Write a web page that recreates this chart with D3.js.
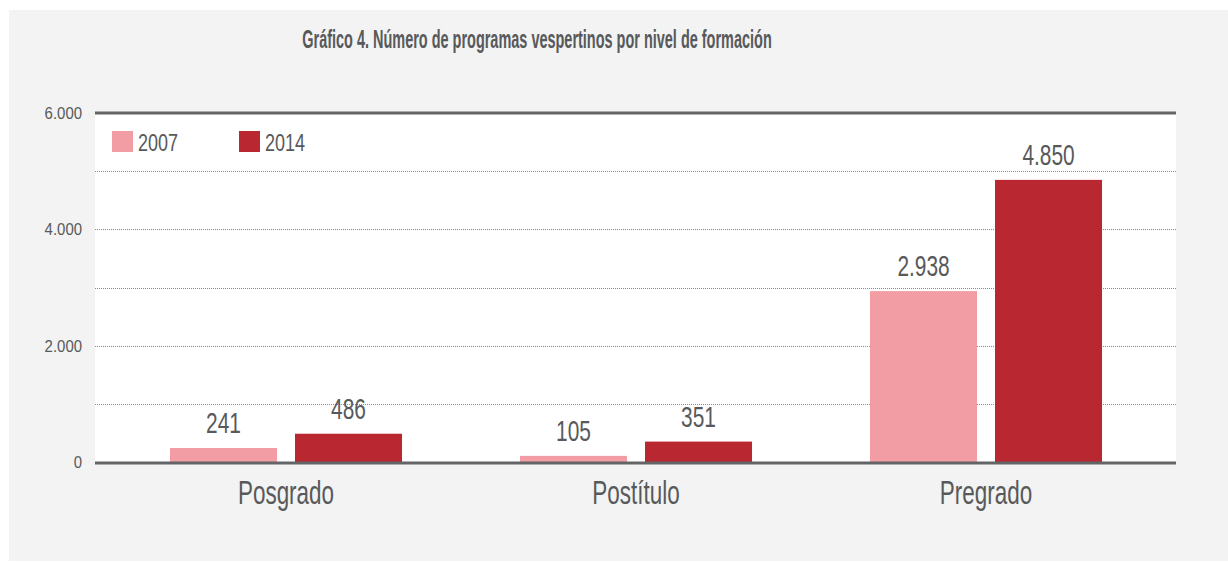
<!DOCTYPE html>
<html>
<head>
<meta charset="utf-8">
<script src="https://cdn.jsdelivr.net/npm/d3@7"></script>
<style>
  body { margin: 0; background: #fff; }
  text { font-family: "Liberation Sans", Arial, sans-serif; fill: #58595b; }
</style>
</head>
<body>
<svg id="chart" width="1228" height="562"></svg>
<script>
// data
const categories = ["Posgrado", "Postítulo", "Pregrado"];
const seriesNames = ["2007", "2014"];
const values2007 = [241, 105, 2938];
const values2014 = [486, 351, 4850];
const yTicks = [0, 2000, 4000, 6000];
const gridTicks = [1000, 2000, 3000, 4000, 5000];
const title = "Gráfico 4. Número de programas vespertinos por nivel de formación";

const colors = ["#f29ca3", "#b92730"];
const fmt = d3.formatLocale({ decimal: ",", thousands: ".", grouping: [3], currency: ["$", ""] }).format(",d");

// no condensed font installed, so squeeze text horizontally around its anchor
const squeeze = (sel, sx) => sel.each(function () {
    const t = d3.select(this);
    const x = +t.attr("x") || 0, y = +t.attr("y") || 0;
    t.attr("transform", `translate(${x},${y}) scale(${sx},1) translate(${-x},${-y})`);
});

const svg = d3.select("#chart");

// grey panel + white plot area
svg.append("rect").attr("x", 9).attr("y", 10).attr("width", 1219).attr("height", 551).attr("fill", "#f2f3f2");

const plotLeft = 95, plotRight = 1176, plotTop = 113, plotBottom = 462;
svg.append("rect")
    .attr("x", plotLeft).attr("y", plotTop)
    .attr("width", plotRight - plotLeft).attr("height", plotBottom - plotTop)
    .attr("fill", "#fff");

const y = d3.scaleLinear().domain([0, 6000]).range([plotBottom, plotTop]);

const x0 = d3.scaleBand()
    .domain(categories)
    .range([111, 1161])
    .paddingInner(0.337)
    .paddingOuter(0.1685);

const x1 = d3.scaleBand()
    .domain(seriesNames)
    .range([0, x0.bandwidth()])
    .paddingInner(0.144);

// dotted gridlines
svg.append("g")
    .selectAll("line")
    .data(gridTicks)
    .enter()
    .append("line")
    .attr("x1", plotLeft).attr("x2", plotRight)
    .attr("y1", d => Math.round(y(d)) + 0.5).attr("y2", d => Math.round(y(d)) + 0.5)
    .attr("stroke", "#8a8a8a")
    .attr("stroke-width", 1)
    .attr("stroke-dasharray", "1,1");

// top line
svg.append("line")
    .attr("x1", plotLeft).attr("x2", plotRight)
    .attr("y1", y(6000)).attr("y2", y(6000))
    .attr("stroke", "#636466").attr("stroke-width", 3);

// y axis labels
const yAxis = d3.axisLeft(y).tickValues(yTicks).tickFormat(fmt).tickSize(0).tickPadding(13);
const yg = svg.append("g").attr("transform", `translate(${plotLeft}, 0)`).call(yAxis);
yg.select(".domain").remove();
yg.selectAll("text")
    .style("font-size", "17px")
    .attr("fill", "#58595b")
    .style("font-family", '"Liberation Sans", Arial, sans-serif')
    .call(squeeze, 0.88);

// bars
const table = categories.map((c, i) => ({ cat: c, vals: [values2007[i], values2014[i]] }));

const groups = svg.append("g")
    .selectAll("g")
    .data(table)
    .enter()
    .append("g")
    .attr("transform", d => `translate(${x0(d.cat)}, 0)`);

groups.selectAll("rect")
    .data(d => d.vals.map((v, j) => ({ key: seriesNames[j], v: v, j: j })))
    .enter()
    .append("rect")
    .attr("x", d => x1(d.key))
    .attr("y", d => y(d.v))
    .attr("width", x1.bandwidth())
    .attr("height", d => y(0) - y(d.v))
    .attr("fill", d => colors[d.j]);

groups.selectAll("text")
    .data(d => d.vals.map((v, j) => ({ key: seriesNames[j], v: v })))
    .enter()
    .append("text")
    .attr("x", d => x1(d.key) + x1.bandwidth() / 2)
    .attr("y", d => y(d.v) - 15)
    .attr("text-anchor", "middle")
    .style("font-size", "29px")
    .text(d => fmt(d.v))
    .call(squeeze, 0.72);

// bottom axis line
svg.append("line")
    .attr("x1", plotLeft).attr("x2", plotRight)
    .attr("y1", plotBottom + 1).attr("y2", plotBottom + 1)
    .attr("stroke", "#636466").attr("stroke-width", 3);

// category labels
const xAxis = d3.axisBottom(x0).tickSize(0).tickPadding(18);
const xg = svg.append("g").attr("transform", `translate(0, ${plotBottom})`).call(xAxis);
xg.select(".domain").remove();
xg.selectAll("text")
    .style("font-size", "34px")
    .attr("fill", "#58595b")
    .style("font-family", '"Liberation Sans", Arial, sans-serif')
    .call(squeeze, 0.66);

// legend
const legend = svg.append("g").attr("transform", "translate(112, 131)");
const li = legend.selectAll("g")
    .data(seriesNames)
    .enter()
    .append("g")
    .attr("transform", (d, i) => `translate(${i * 127}, 0)`);
li.append("rect").attr("width", 21).attr("height", 21).attr("fill", (d, i) => colors[i]);
li.append("text").attr("x", 26).attr("y", 20).style("font-size", "24px").text(d => d)
    .call(squeeze, 0.75);

// title
const titleText = svg.append("text")
    .attr("x", 537).attr("y", 48)
    .attr("text-anchor", "middle")
    .style("font-size", "25px")
    .style("font-weight", "bold")
    .text(title);
const tw = titleText.node().getComputedTextLength();
titleText.call(squeeze, 470 / tw);
</script>
</body>
</html>
